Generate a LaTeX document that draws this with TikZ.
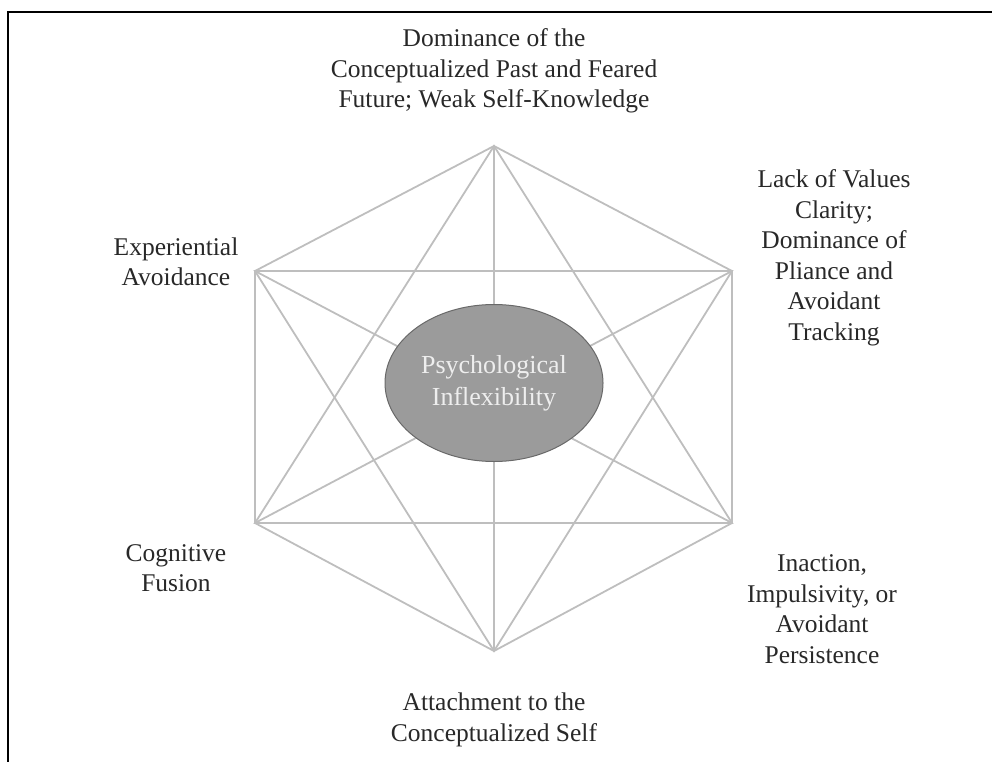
\documentclass[tikz,border=0pt]{standalone}
\usepackage{fontspec}
\setmainfont{Liberation Serif}
\usetikzlibrary{shapes.geometric}

\definecolor{inkgray}{RGB}{40,40,40}
\definecolor{linkgray}{RGB}{190,190,190}
\definecolor{corefill}{RGB}{155,155,155}
\definecolor{coreedge}{RGB}{105,105,105}
\definecolor{coretext}{RGB}{238,238,238}

\begin{document}
\begin{tikzpicture}[
  x=1pt, y=-1pt,
  link/.style={draw=linkgray, line width=1.8pt},
  label/.style={align=center, text=inkgray, font=\fontsize{25.5}{30.5}\selectfont},
  core/.style={ellipse, draw=coreedge, line width=1pt, fill=corefill,
    minimum width=218pt, minimum height=157pt, align=center, text=coretext,
    font=\fontsize{26}{32}\selectfont}
]
\useasboundingbox (0,0) rectangle (992,762);

% Frame
\draw[line width=1.6pt] (8,762) -- (8,12) -- (992,12);

% Hexagon corners
\coordinate (t) at (494,146);
\coordinate (tr) at (732,271);
\coordinate (br) at (732,523);
\coordinate (b) at (494,651);
\coordinate (bl) at (255,523);
\coordinate (tl) at (255,271);

% Sides
\draw[link] (t) -- (tr) -- (br) -- (b) -- (bl) -- (tl) -- cycle;

% Triangles
\draw[link] (t) -- (br) -- (bl) -- cycle;
\draw[link] (tr) -- (b) -- (tl) -- cycle;

% Long diagonals
\draw[link] (t) -- (b);
\draw[link] (tl) -- (br);
\draw[link] (tr) -- (bl);

% Core
\node[core] (pi) at (494,383) {Psychological\\Inflexibility};

% Processes
\node[label] (past) at (494,71) {Dominance of the\\Conceptualized Past and Feared\\Future; Weak Self-Knowledge};
\node[label] (values) at (834,258) {Lack of Values\\Clarity;\\Dominance of\\Pliance and\\Avoidant\\Tracking};
\node[label] (avoid) at (176,262) {Experiential\\Avoidance};
\node[label] (fusion) at (176,568) {Cognitive\\Fusion};
\node[label] (action) at (822,609) {Inaction,\\Impulsivity, or\\Avoidant\\Persistence};
\node[label] (self) at (494,720) {Attachment to the\\Conceptualized Self};

\end{tikzpicture}
\end{document}
